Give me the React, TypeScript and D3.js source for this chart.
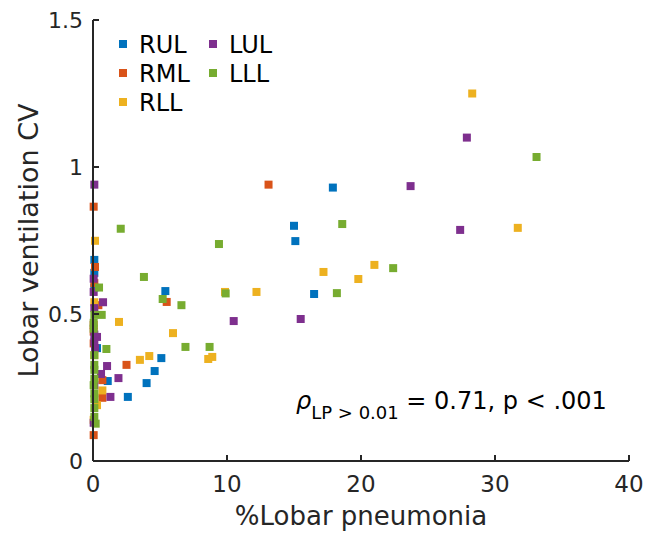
import React from 'react';
import * as d3 from 'd3';

// data: [% lobar pneumonia, lobar ventilation CV]
const rul: [number, number][] = [
  [17.9, 0.93], [15.0, 0.8], [15.1, 0.748], [16.5, 0.568], [5.4, 0.578], [5.1, 0.35], [4.6, 0.306],
  [4.0, 0.265], [2.6, 0.218], [1.1, 0.272], [0.3, 0.384], [0.1, 0.684], [0.1, 0.64], [0.1, 0.59],
];
const rml: [number, number][] = [
  [13.1, 0.94], [5.5, 0.541], [2.5, 0.327], [0.7, 0.275], [0.7, 0.215], [0.05, 0.865], [0.15, 0.66],
  [0.1, 0.605], [0.05, 0.463], [0.05, 0.44], [0.05, 0.4], [0.05, 0.088], [0.4, 0.53],
];
const rll: [number, number][] = [
  [28.3, 1.25], [31.7, 0.793], [17.2, 0.643], [21.0, 0.667], [19.8, 0.619], [12.2, 0.575], [9.85, 0.575],
  [1.94, 0.473], [5.97, 0.435], [8.9, 0.354], [8.6, 0.347], [3.5, 0.344], [4.2, 0.357], [0.7, 0.24],
  [0.15, 0.749], [0.1, 0.54], [0.3, 0.19], [0.05, 0.14], [0.1, 0.36],
];
const lul: [number, number][] = [
  [27.9, 1.1], [23.7, 0.935], [27.4, 0.786], [15.5, 0.483], [10.5, 0.476], [1.9, 0.282], [1.3, 0.218],
  [1.05, 0.323], [0.75, 0.54], [0.6, 0.296], [0.3, 0.422], [0.1, 0.94], [0.05, 0.62], [0.05, 0.575],
  [0.1, 0.52], [0.1, 0.43], [0.1, 0.405], [0.15, 0.384], [0.1, 0.258], [0.05, 0.13],
];
const lll: [number, number][] = [
  [33.1, 1.034], [18.6, 0.806], [22.4, 0.656], [18.2, 0.571], [2.07, 0.79], [9.4, 0.738], [3.8, 0.626],
  [5.2, 0.551], [6.6, 0.53], [9.9, 0.57], [6.9, 0.388], [8.7, 0.388], [1.0, 0.381], [0.65, 0.497],
  [0.45, 0.59], [0.1, 0.497], [0.1, 0.36], [0.1, 0.327], [0.1, 0.31], [0.1, 0.28], [0.05, 0.258],
  [0.1, 0.23], [0.1, 0.21], [0.1, 0.18], [0.1, 0.15], [0.2, 0.127], [0.05, 0.45], [0.05, 0.47],
];

const seriesNames = ['RUL', 'RML', 'RLL', 'LUL', 'LLL'];
const seriesData = [rul, rml, rll, lul, lll];
const colors = ['#0072BD', '#D95319', '#EDB120', '#7E2F8E', '#77AC30'];
const xTicks = [0, 10, 20, 30, 40];
const yTicks = [0, 0.5, 1, 1.5];

export default function App() {
  const width = 666;
  const height = 533;
  const margin = { top: 20, right: 37, bottom: 72, left: 93 };
  const x = d3.scaleLinear().domain([0, 40]).range([margin.left, width - margin.right]);
  const y = d3.scaleLinear().domain([0, 1.5]).range([height - margin.bottom, margin.top]);
  const axisColor = '#262626';
  const font = 'DejaVu Sans, sans-serif';
  const ms = 8;
  const x0 = x(0);
  const y0 = y(0);

  // legend layout: column-major, 3 rows
  const legendPos = (i: number) => ({ lx: 123 + Math.floor(i / 3) * 90, ly: 44 + (i % 3) * 29 });

  return (
    <svg width={width} height={height} style={{ position: 'absolute', left: 0, top: 0 }} fontFamily={font}>
      <rect width={width} height={height} fill="#fff" />
      {seriesData.map((pts, si) =>
        pts.map((d, i) => (
          <rect
            key={`${si}-${i}`}
            x={x(d[0]) - ms / 2}
            y={y(d[1]) - ms / 2}
            width={ms}
            height={ms}
            fill={colors[si]}
          />
        ))
      )}
      {/* axes */}
      <line x1={x0} x2={x(40)} y1={y0} y2={y0} stroke={axisColor} strokeWidth={2} />
      <line x1={x0} x2={x0} y1={y0} y2={y(1.5)} stroke={axisColor} strokeWidth={2} />
      {xTicks.map((t) => (
        <g key={`xt${t}`}>
          {t > 0 && <line x1={x(t)} x2={x(t)} y1={y0} y2={y0 - 6} stroke={axisColor} strokeWidth={2} />}
          <text x={x(t)} y={y0 + 31} textAnchor="middle" fontSize={23} fill={axisColor}>
            {t}
          </text>
        </g>
      ))}
      {yTicks.map((t) => (
        <g key={`yt${t}`}>
          {t > 0 && <line x1={x0} x2={x0 + 6} y1={y(t)} y2={y(t)} stroke={axisColor} strokeWidth={2} />}
          <text x={x0 - 10} y={y(t) + 8} textAnchor="end" fontSize={22} fill={axisColor}>
            {t}
          </text>
        </g>
      ))}
      <text x={(x0 + x(40)) / 2} y={525} textAnchor="middle" fontSize={26} fill={axisColor}>
        %Lobar pneumonia
      </text>
      <text
        transform={`translate(38, ${(y0 + y(1.5)) / 2}) rotate(-90)`}
        textAnchor="middle"
        fontSize={27}
        fill={axisColor}
      >
        Lobar ventilation CV
      </text>
      {/* legend */}
      {seriesNames.map((name, i) => {
        const { lx, ly } = legendPos(i);
        return (
          <g key={name}>
            <rect x={lx - 4} y={ly - 4} width={8} height={8} fill={colors[i]} />
            <text x={lx + 16} y={ly + 9} fontSize={24} fill="#000">
              {name}
            </text>
          </g>
        );
      })}
      {/* annotation */}
      <text x={296} y={409} fontSize={24} fill="#000">
        <tspan fontStyle="italic">ρ</tspan>
        <tspan fontSize={18} dy={10}>LP &gt; 0.01</tspan>
        <tspan dy={-10}> = 0.71, p &lt; .001</tspan>
      </text>
    </svg>
  );
}
